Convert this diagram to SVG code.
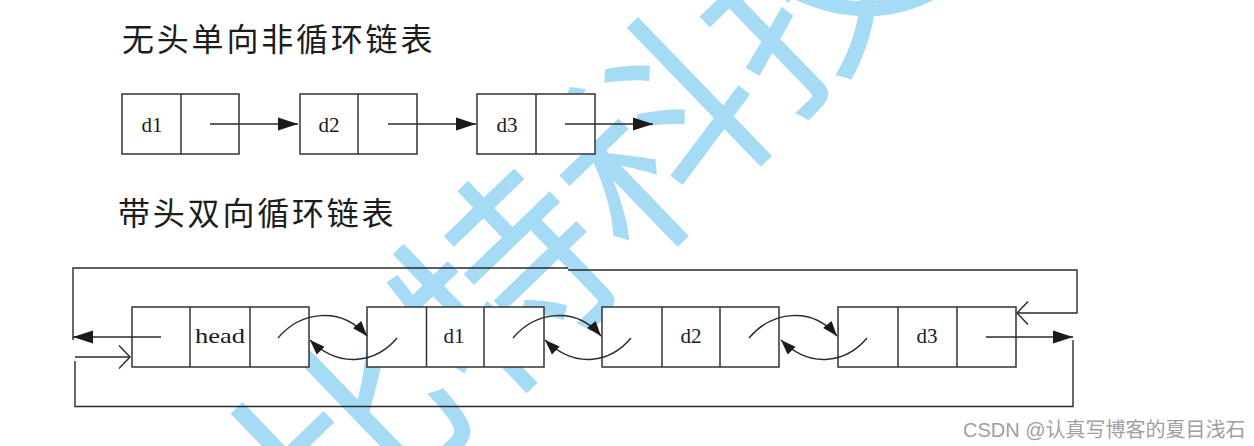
<svg xmlns="http://www.w3.org/2000/svg" width="1254" height="446" viewBox="0 0 1254 446">
  <style>
    .title { font-family: "Noto Sans CJK SC", "Noto Sans", sans-serif; font-size: 32px; letter-spacing: 2.8px; fill: #1c1c1c; }
    .cell { fill: #ffffff; stroke: #333333; stroke-width: 1.5; }
    .div { stroke: #333333; stroke-width: 1.5; }
    .lbl { font-family: "Liberation Serif", "DejaVu Serif", serif; font-size: 21px; fill: #1a1a1a; text-anchor: middle; }
    .ln { fill: none; stroke: #2a2a2a; stroke-width: 1.4; }
    .wm { font-family: "Noto Sans CJK SC", sans-serif; font-weight: 400; font-size: 210px; fill: #a6dbf6; text-anchor: middle; }
    .csdn { font-family: "Liberation Sans", "Noto Sans CJK SC", sans-serif; font-size: 20px; fill: #a0a0a0; }
  </style>
  <defs>
    <marker id="big" markerUnits="userSpaceOnUse" markerWidth="22" markerHeight="14" refX="20" refY="6.5" orient="auto" overflow="visible">
      <path d="M0,0 L20,6.5 L0,13 z" fill="#1a1a1a"/>
    </marker>
    <marker id="small" markerUnits="userSpaceOnUse" markerWidth="16" markerHeight="12" refX="15" refY="5.5" orient="auto" overflow="visible">
      <path d="M0,0 L15,5.5 L0,11 z" fill="#1a1a1a"/>
    </marker>
    <marker id="open" markerUnits="userSpaceOnUse" markerWidth="14" markerHeight="26" refX="12" refY="12" orient="auto" overflow="visible">
      <path d="M1,0.5 L12,12 L1,23.5" fill="none" stroke="#2a2a2a" stroke-width="1.4"/>
    </marker>
  </defs>
  <rect width="1254" height="446" fill="#ffffff"/>

  <g id="watermark">
    <text class="wm" transform="translate(580,210) rotate(-44)" x="0" y="78">比特科技</text>
  </g>

  <g id="titles">
    <text class="title" x="122" y="51">无头单向非循环链表</text>
    <text class="title" x="118" y="225">带头双向循环链表</text>
  </g>

  <!-- singly linked list -->
  <g id="s-d1">
    <rect class="cell" x="122" y="94" width="117" height="60"/>
    <line class="div" x1="181" y1="94" x2="181" y2="154"/>
    <text class="lbl" x="152" y="132">d1</text>
  </g>
  <g id="s-d2">
    <rect class="cell" x="300" y="94" width="117" height="60"/>
    <line class="div" x1="358" y1="94" x2="358" y2="154"/>
    <text class="lbl" x="329" y="132">d2</text>
  </g>
  <g id="s-d3">
    <rect class="cell" x="477" y="94" width="118" height="60"/>
    <line class="div" x1="536" y1="94" x2="536" y2="154"/>
    <text class="lbl" x="507" y="132">d3</text>
  </g>

  <!-- doubly linked circular list -->
  <g id="d-head">
    <rect class="cell" x="132" y="307" width="177" height="60"/>
    <line class="div" x1="190" y1="307" x2="190" y2="367"/>
    <line class="div" x1="250" y1="307" x2="250" y2="367"/>
    <text class="lbl" x="220" y="343" textLength="50" lengthAdjust="spacingAndGlyphs">head</text>
  </g>
  <g id="d-d1">
    <rect class="cell" x="367" y="307" width="177" height="60"/>
    <line class="div" x1="426.5" y1="307" x2="426.5" y2="367"/>
    <line class="div" x1="484" y1="307" x2="484" y2="367"/>
    <text class="lbl" x="454" y="343">d1</text>
  </g>
  <g id="d-d2">
    <rect class="cell" x="602" y="307" width="177" height="60"/>
    <line class="div" x1="662" y1="307" x2="662" y2="367"/>
    <line class="div" x1="720" y1="307" x2="720" y2="367"/>
    <text class="lbl" x="691" y="343">d2</text>
  </g>
  <g id="d-d3">
    <rect class="cell" x="838" y="307" width="178" height="60"/>
    <line class="div" x1="898" y1="307" x2="898" y2="367"/>
    <line class="div" x1="957" y1="307" x2="957" y2="367"/>
    <text class="lbl" x="927" y="343">d3</text>
  </g>

  <g id="connectors">
    <!-- singly list arrows -->
    <path class="ln" d="M210,124 H298" marker-end="url(#big)"/>
    <path class="ln" d="M388,124 H476" marker-end="url(#big)"/>
    <path class="ln" d="M565,124 H653" marker-end="url(#big)"/>

    <!-- head <-> d1 -->
    <path class="ln" d="M278,338 C300,312 340,305 367,336" marker-end="url(#small)"/>
    <path class="ln" d="M397,338 C377,362 340,370 310,340" marker-end="url(#small)"/>
    <!-- d1 <-> d2 -->
    <path class="ln" d="M513,338 C535,312 575,305 601,336" marker-end="url(#small)"/>
    <path class="ln" d="M631,338 C611,362 576,370 545,340" marker-end="url(#small)"/>
    <!-- d2 <-> d3 -->
    <path class="ln" d="M749,338 C771,312 811,305 837,336" marker-end="url(#small)"/>
    <path class="ln" d="M867,338 C847,362 811,370 781,340" marker-end="url(#small)"/>

    <!-- head prev pointer out to the left -->
    <path class="ln" d="M161,337 H73" marker-end="url(#big)"/>
    <!-- top loop: from left round to d3 -->
    <path class="ln" d="M73,340 V268 H568"/>
    <path class="ln" d="M568,270 H1077 V313 H1017" marker-end="url(#open)"/>
    <!-- d3 next pointer out to the right -->
    <path class="ln" d="M986,337 H1073" marker-end="url(#big)"/>
    <!-- bottom loop: from right round to head -->
    <path class="ln" d="M1073,340 V406.5 H75 V361"/>
    <path class="ln" d="M75,357 H130" marker-end="url(#open)"/>
  </g>

  <text class="csdn" x="963" y="437">CSDN @认真写博客的夏目浅石</text>
</svg>
